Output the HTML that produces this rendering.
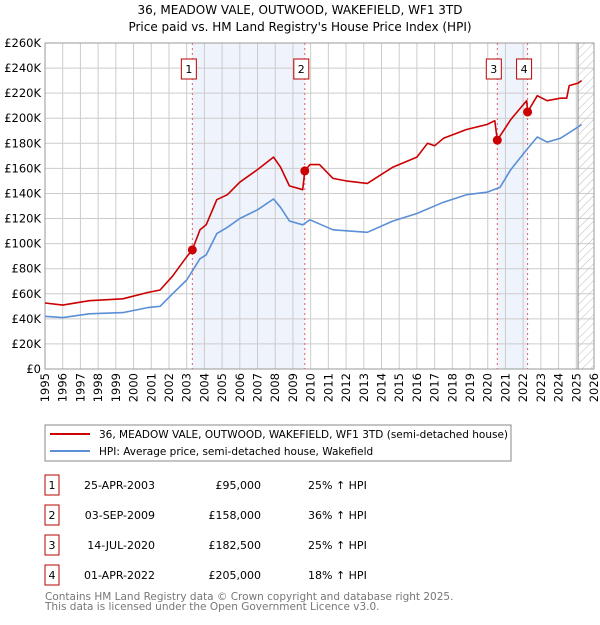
<!DOCTYPE html>
<html><head><meta charset="utf-8"><style>
body{margin:0;background:#fff;}
svg text{font-family:"DejaVu Sans","Liberation Sans",sans-serif;}
</style></head><body>
<svg id="chart" width="600" height="620" viewBox="0 0 600 620" xmlns="http://www.w3.org/2000/svg">
<defs><pattern id="hatch" width="6" height="6" patternUnits="userSpaceOnUse" patternTransform="rotate(45)"><line x1="0" y1="0" x2="0" y2="6" stroke="#bbb" stroke-width="1"/></pattern></defs>
<text x="300" y="14" text-anchor="middle" font-size="12">36, MEADOW VALE, OUTWOOD, WAKEFIELD, WF1 3TD</text>
<text x="300" y="31" text-anchor="middle" font-size="12">Price paid vs. HM Land Registry's House Price Index (HPI)</text>
<g id="plot"></g>
<g>
<rect x="45" y="425" width="466" height="36" fill="#fff" stroke="#888"/>
<line x1="50" y1="434" x2="90" y2="434" stroke="#cc0000" stroke-width="2"/>
<text x="99" y="438" font-size="10.5">36, MEADOW VALE, OUTWOOD, WAKEFIELD, WF1 3TD (semi-detached house)</text>
<line x1="50" y1="451" x2="90" y2="451" stroke="#5b8fd6" stroke-width="2"/>
<text x="99" y="455" font-size="10.5">HPI: Average price, semi-detached house, Wakefield</text>
</g>
<g id="table"></g>
<text x="45" y="600" font-size="10.5" fill="#777">Contains HM Land Registry data © Crown copyright and database right 2025.</text>
<text x="45" y="610" font-size="10.5" fill="#777">This data is licensed under the Open Government Licence v3.0.</text>
</svg>
<script>
const hpiYears=[1995.0,1996.0,1997.5,1999.4,2000.8,2001.5,2002.2,2003.0,2003.75,2004.1,2004.7,2005.3,2006.0,2007.0,2007.9,2008.3,2008.8,2009.55,2009.96,2011.26,2013.2,2014.65,2016.0,2017.5,2018.8,2019.96,2020.7,2021.3,2022.2,2022.8,2023.35,2024.1,2025.1,2025.3];
const hpiValues=[42,41,44,45,49,50,60,71,88,91,108,113,120,127,135.6,129,118,115,119,111,109,118,124,133,139,141,145,159,175,185,181,184,193,195];
const priceYears=[1995.0,1996.0,1997.5,1999.4,2000.8,2001.5,2002.2,2003.0,2003.32,2003.75,2004.1,2004.7,2005.3,2006.0,2007.0,2007.9,2008.3,2008.8,2009.55,2009.67,2009.96,2010.5,2011.26,2012.0,2013.2,2014.65,2016.0,2016.6,2017.0,2017.5,2018.8,2019.96,2020.4,2020.54,2021.3,2021.9,2022.2,2022.25,2022.8,2023.35,2024.1,2024.46,2024.6,2025.1,2025.3];
const priceValues=[52.6,51,54.5,56,61,63,74,89.5,95,111,115,135,139,149,159,169,161,146,143,158,163,163,152,150,148,161,169,180,178,184,191,195,198,182.5,199,209,214,205,218,214,216,216,226,228,230];
const saleLabels=["1","2","3","4"];
const saleYears=[2003.32,2009.67,2020.54,2022.25];
const saleValues=[95,158,182.5,205];
const saleDates=["25-APR-2003","03-SEP-2009","14-JUL-2020","01-APR-2022"];
const salePrices=["£95,000","£158,000","£182,500","£205,000"];
const saleHpi=["25% ↑ HPI","36% ↑ HPI","25% ↑ HPI","18% ↑ HPI"];
const yTicks=[0,20,40,60,80,100,120,140,160,180,200,220,240,260];
const xTicks=[];for(let y=1995;y<=2026;y++)xTicks.push(y);

const X0=45,X1=594,Y0=369,Y1=43;
const x=v=>X0+(v-1995)/(2026-1995)*(X1-X0);
const y=v=>Y0-v/260*(Y0-Y1);
const NS="http://www.w3.org/2000/svg";
const plot=document.getElementById('plot');
function mk(tag,attrs,parent){const e=document.createElementNS(NS,tag);for(const k in attrs)e.setAttribute(k,attrs[k]);(parent||plot).appendChild(e);return e;}

mk('rect',{x:X0,y:Y1,width:X1-X0,height:Y0-Y1,fill:'#fff'});
let s1=mk('rect',{x:x(saleYears[0]),y:Y1,width:x(saleYears[1])-x(saleYears[0]),height:Y0-Y1,fill:'#eef3fc'});


let s2=mk('rect',{x:x(saleYears[2]),y:Y1,width:x(saleYears[3])-x(saleYears[2]),height:Y0-Y1,fill:'#eef3fc'});


let h=mk('rect',{x:x(2025.1),y:Y1,width:X1-x(2025.1),height:Y0-Y1,fill:'url(#hatch)'});


xTicks.forEach(t=>{
  mk('line',{x1:x(t),y1:Y1,x2:x(t),y2:Y0,stroke:'#ccc','stroke-width':1});
  const px=x(t)+4, py=Y0+4;
  const tx=mk('text',{x:px,y:py,'text-anchor':'end','font-size':11.5,transform:'rotate(-90 '+px+' '+py+')'});
  tx.textContent=t;
  
  
});
yTicks.forEach(t=>{
  mk('line',{x1:X0,y1:y(t),x2:X1,y2:y(t),stroke:'#ccc','stroke-width':1});
  const tx=mk('text',{x:X0-4,y:y(t)+4,'text-anchor':'end','font-size':11.5});
  tx.textContent=t===0?'£0':'£'+t+'K';
  
  
});
mk('rect',{x:X0,y:Y1,width:X1-X0,height:Y0-Y1,fill:'none',stroke:'#999'});
mk('line',{x1:x(2025.1),y1:Y1,x2:x(2025.1),y2:Y0,stroke:'#888'});
saleYears.forEach((s,i)=>{
  const l=mk('line',{x1:x(s),y1:Y1,x2:x(s),y2:Y0,stroke:'#e06060','stroke-dasharray':'2,3'});
  
  
  const bx=x(s)-11;
  const b=mk('rect',{x:bx,y:59,width:15,height:20,fill:'#fff',stroke:'#b00'});
  
  
  const t=mk('text',{x:bx+7.5,y:73,'text-anchor':'middle','font-size':11});
  t.textContent=saleLabels[i];
});
function path(xs,vs,color,name){
  const d=xs.map((v,i)=>(i?'L':'M')+x(v).toFixed(1)+','+y(vs[i]).toFixed(1)).join('');
  const p=mk('path',{d:d,fill:'none',stroke:color,'stroke-width':1.6,'stroke-linejoin':'round'});
  
  
}
path(hpiYears,hpiValues,'#5b8fd6','hpi-line');
path(priceYears,priceValues,'#cc0000','price-line');
saleYears.forEach((s,i)=>{
  const c=mk('circle',{cx:x(s),cy:y(saleValues[i]),r:4.5,fill:'#cc0000'});
  
  
});
const tb=document.getElementById('table');
saleLabels.forEach((lab,i)=>{
  const cy=485+i*30;
  mk('rect',{x:45,y:cy-10,width:14,height:20,fill:'#fff',stroke:'#b00'},tb);
  const a=mk('text',{x:52,y:cy+4,'text-anchor':'middle','font-size':11},tb);a.textContent=lab;
  const d=mk('text',{x:155,y:cy+4,'text-anchor':'end','font-size':11},tb);d.textContent=saleDates[i];
  
  
  const p=mk('text',{x:261,y:cy+4,'text-anchor':'end','font-size':11},tb);p.textContent=salePrices[i];
  
  
  const hh=mk('text',{x:308,y:cy+4,'font-size':11},tb);hh.textContent=saleHpi[i];
  
  
});
</script>
</body></html>
